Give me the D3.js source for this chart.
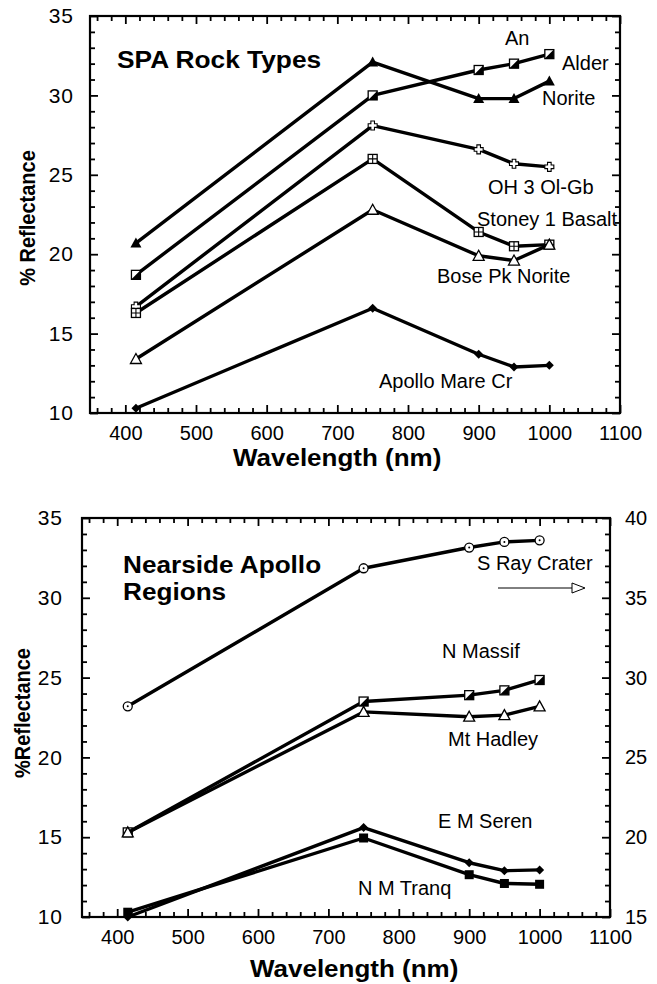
<!DOCTYPE html>
<html><head><meta charset="utf-8">
<script src="https://cdn.jsdelivr.net/npm/d3@7"></script>
<style>body{margin:0;background:#fff}svg{display:block}text{font-family:"Liberation Sans",Arial,Helvetica,sans-serif;fill:#000}</style>
</head><body>
<svg id="c" width="657" height="984"></svg>
<script>
// ---------- data ----------
const wavelengths = [415, 750, 900, 950, 1000];
const xTicks = [400, 500, 600, 700, 800, 900, 1000, 1100];
const yTicks = [10, 15, 20, 25, 30, 35];
const yRightTicks = [15, 20, 25, 30, 35, 40];

// Top panel: SPA Rock Types
const topNames   = ["An Norite", "Alder", "OH 3 Ol-Gb", "Stoney 1 Basalt", "Bose Pk Norite", "Apollo Mare Cr"];
const topSymbols = ["triFill", "halfSq", "cross", "sqPlus", "triOpen", "diamond"];
const anNorite   = [20.7, 32.1, 29.8, 29.8, 30.9];
const alder      = [18.7, 30.0, 31.6, 32.0, 32.6];
const oh3OlGb    = [16.7, 28.1, 26.6, 25.7, 25.5];
const stoney1    = [16.3, 26.0, 21.4, 20.5, 20.6];
const bosePk     = [13.4, 22.8, 19.9, 19.6, 20.6];
const apolloMare = [10.3, 16.6, 13.7, 12.9, 13.0];
const topValues  = [anNorite, alder, oh3OlGb, stoney1, bosePk, apolloMare];

// Bottom panel: Nearside Apollo Regions
const botNames   = ["S Ray Crater", "N Massif", "Mt Hadley", "E M Seren", "N M Tranq"];
const botSymbols = ["circle", "halfSq", "triOpen", "diamond", "sqFill"];
const botAxis    = ["right", "left", "left", "left", "left"];
const sRayCrater = [28.2, 36.85, 38.15, 38.5, 38.6];   // right axis
const nMassif    = [15.3, 23.5, 23.9, 24.2, 24.85];
const mtHadley   = [15.3, 22.85, 22.55, 22.65, 23.2];
const eMSeren    = [10.0, 15.6, 13.4, 12.9, 12.95];
const nMTranq    = [10.3, 14.95, 12.65, 12.1, 12.05];
const botValues  = [sRayCrater, nMassif, mtHadley, eMSeren, nMTranq];

// ---------- drawing ----------
const svg = d3.select("#c");
const FONT = "Liberation Sans, Arial, sans-serif";

function marker(g, type, x, y) {
  const s = 4.5;
  const k = g.append("g").attr("transform", `translate(${x},${y})`);
  const sw = 1.3;
  if (type === "triFill") {
    k.append("path").attr("d", `M0,${-s-1}L${s+1},${s}L${-s-1},${s}Z`).attr("fill", "#000");
  } else if (type === "triOpen") {
    k.append("path").attr("d", `M0,${-s-1}L${s+1},${s}L${-s-1},${s}Z`).attr("fill", "#fff").attr("stroke", "#000").attr("stroke-width", sw);
  } else if (type === "halfSq") {
    k.append("rect").attr("x", -s).attr("y", -s).attr("width", 2*s).attr("height", 2*s).attr("fill", "#fff").attr("stroke", "#000").attr("stroke-width", sw);
    k.append("path").attr("d", `M${s},${-s}L${s},${s}L${-s},${s}Z`).attr("fill", "#000");
  } else if (type === "sqFill") {
    k.append("rect").attr("x", -s).attr("y", -s).attr("width", 2*s).attr("height", 2*s).attr("fill", "#000");
  } else if (type === "sqPlus") {
    k.append("rect").attr("x", -s).attr("y", -s).attr("width", 2*s).attr("height", 2*s).attr("fill", "#fff").attr("stroke", "#000").attr("stroke-width", sw);
    k.append("path").attr("d", `M0,${-s}V${s}M${-s},0H${s}`).attr("stroke", "#000").attr("stroke-width", 1.1);
  } else if (type === "cross") {
    const a = 1.8, b = s;
    k.append("path").attr("d", `M${-a},${-b}H${a}V${-a}H${b}V${a}H${a}V${b}H${-a}V${a}H${-b}V${-a}H${-a}Z`)
      .attr("fill", "#fff").attr("stroke", "#000").attr("stroke-width", 1.1);
  } else if (type === "diamond") {
    k.append("path").attr("d", `M0,${-s}L${s},0L0,${s}L${-s},0Z`).attr("fill", "#000");
  } else if (type === "circle") {
    k.append("circle").attr("r", s).attr("fill", "#fff").attr("stroke", "#000").attr("stroke-width", sw);
    k.append("circle").attr("r", 1).attr("fill", "#000");
  }
}

function panel(opt) {
  const {x, y, yR} = opt;
  const g = svg.append("g");
  const [x0, x1] = x.range(), [y0, y1] = y.range();
  const minorX = d3.range(360, 1101, 20).filter(v => v % 100 !== 0);
  const minorY = d3.range(10, 36, 1).filter(v => v % 5 !== 0);
  const maj = 8, mnr = 5;
  // bottom axis
  g.append("g").attr("transform", `translate(0,${y0})`)
    .call(d3.axisBottom(x).tickValues(xTicks).tickSizeInner(-maj).tickSizeOuter(0).tickPadding(maj + 5).tickFormat(d3.format("d")))
    .call(a => a.selectAll("text").attr("font-size", 20).attr("font-family", FONT));
  g.append("g").attr("transform", `translate(0,${y0})`)
    .call(d3.axisBottom(x).tickValues(minorX).tickSize(-mnr).tickFormat(""));
  // top axis
  g.append("g").attr("transform", `translate(0,${y1})`)
    .call(d3.axisTop(x).tickValues(xTicks).tickSize(-maj).tickFormat(""));
  g.append("g").attr("transform", `translate(0,${y1})`)
    .call(d3.axisTop(x).tickValues(minorX).tickSize(-mnr).tickFormat(""));
  // left axis
  g.append("g").attr("transform", `translate(${x0},0)`)
    .call(d3.axisLeft(y).tickValues(yTicks).tickSizeInner(-maj).tickSizeOuter(0).tickPadding(opt.leftPad).tickFormat(d3.format("d")))
    .call(a => a.selectAll("text").attr("font-size", 21).attr("letter-spacing", 1).attr("font-family", FONT));
  g.append("g").attr("transform", `translate(${x0},0)`)
    .call(d3.axisLeft(y).tickValues(minorY).tickSize(-mnr).tickFormat(""));
  // right axis
  if (yR) {
    g.append("g").attr("transform", `translate(${x1},0)`)
      .call(d3.axisRight(yR).tickValues(yRightTicks).tickSizeInner(-maj).tickSizeOuter(0).tickPadding(15).tickFormat(d3.format("d")))
      .call(a => a.selectAll("text").attr("font-size", 20).attr("font-family", FONT));
    g.append("g").attr("transform", `translate(${x1},0)`)
      .call(d3.axisRight(yR).tickValues(d3.range(15, 41, 1).filter(v => v % 5 !== 0)).tickSize(-mnr).tickFormat(""));
  } else {
    g.append("g").attr("transform", `translate(${x1},0)`)
      .call(d3.axisRight(y).tickValues(yTicks).tickSize(-maj).tickFormat(""));
    g.append("g").attr("transform", `translate(${x1},0)`)
      .call(d3.axisRight(y).tickValues(minorY).tickSize(-mnr).tickFormat(""));
  }
  g.selectAll(".domain").remove();
  g.selectAll(".tick line").attr("stroke", "#000").attr("stroke-width", 1.8);
  g.append("rect").attr("x", x0).attr("y", y1).attr("width", x1 - x0).attr("height", y0 - y1)
    .attr("fill", "none").attr("stroke", "#000").attr("stroke-width", 2.2);
  return g;
}

function series(g, xs, ys, values, sym) {
  const line = d3.line().x(d => xs(d[0])).y(d => ys(d[1]));
  const pts = wavelengths.map((w, i) => [w, values[i]]);
  g.append("path").attr("d", line(pts)).attr("fill", "none").attr("stroke", "#000").attr("stroke-width", 3.4).attr("stroke-linejoin", "round");
  pts.forEach(p => marker(g, sym, xs(p[0]), ys(p[1])));
}

const lab = (txt, x, y, size, weight, sx) => svg.append("text")
  .attr("transform", `translate(${x},${y}) scale(${sx || 1},1)`)
  .attr("font-size", size).attr("font-weight", weight || "normal").text(txt);

// ----- top panel -----
const xA = d3.scaleLinear().domain([350, 1100]).range([90, 620]);
const yA = d3.scaleLinear().domain([10, 35]).range([413, 16]);
const gA = panel({x: xA, y: yA, leftPad: 16});
topValues.forEach((v, i) => series(gA, xA, yA, v, topSymbols[i]));

lab("SPA Rock Types", 117, 68, 23.5, "bold", 1.12);
lab("An", 505, 45, 20);
lab("Alder", 562, 70, 20);
lab("Norite", 542, 105, 20);
lab("OH 3 Ol-Gb", 488, 194, 20);
lab("Stoney 1 Basalt", 477, 226, 20);
lab("Bose Pk Norite", 437, 283, 20);
lab("Apollo Mare Cr", 379, 388, 20);
lab("Wavelength (nm)", 233, 466, 23, "bold", 1.13);
svg.append("text").attr("transform", "translate(35,218) rotate(-90) scale(1,1.12)").attr("text-anchor", "middle")
  .attr("font-size", 20).attr("font-weight", "bold").text("% Reflectance");

// ----- bottom panel -----
const xB = d3.scaleLinear().domain([350, 1100]).range([82, 610]);
const yB = d3.scaleLinear().domain([10, 35]).range([917, 518]);
const yBR = d3.scaleLinear().domain([15, 40]).range([917, 518]);
const gB = panel({x: xB, y: yB, yR: yBR, leftPad: 19});
botValues.forEach((v, i) => series(gB, xB, botAxis[i] === "right" ? yBR : yB, v, botSymbols[i]));

lab("Nearside Apollo", 123, 573, 24, "bold", 1.09);
lab("Regions", 123, 600, 24, "bold", 1.09);
lab("S Ray Crater", 477, 570, 20);
lab("N Massif", 442, 658, 20);
lab("Mt Hadley", 448, 746, 20);
lab("E M Seren", 438, 828, 20);
lab("N M Tranq", 358, 895, 20);
lab("Wavelength (nm)", 250, 977, 23, "bold", 1.13);
svg.append("text").attr("transform", "translate(30,713) rotate(-90) scale(1,1.12)").attr("text-anchor", "middle")
  .attr("font-size", 20).attr("font-weight", "bold").text("%Reflectance");
// arrow pointing to right axis
svg.append("line").attr("x1", 498).attr("y1", 588).attr("x2", 572).attr("y2", 588).attr("stroke", "#000").attr("stroke-width", 1);
svg.append("path").attr("d", "M572,583L585,588L572,593Z").attr("fill", "#fff").attr("stroke", "#000").attr("stroke-width", 1);
</script>
</body></html>
